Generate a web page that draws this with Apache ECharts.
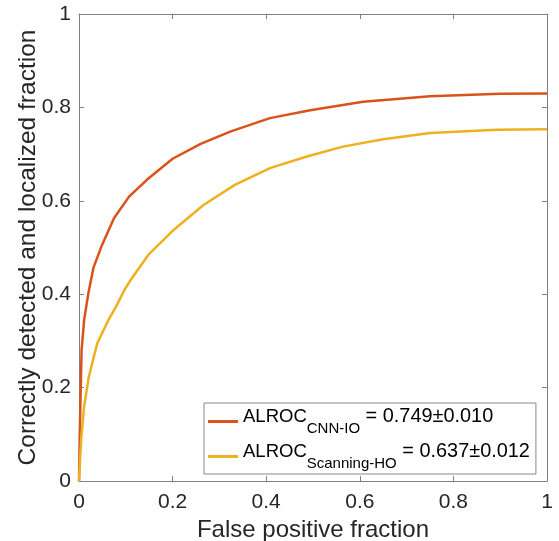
<!DOCTYPE html>
<html>
<head>
<meta charset="utf-8">
<script src="https://cdn.jsdelivr.net/npm/echarts@6/dist/echarts.min.js"></script>
<style>html,body{margin:0;padding:0;background:#fff;}#c{width:559px;height:541px;}</style>
</head>
<body>
<div id="c"></div>
<script>
const fprCNN = [0, 0.0015, 0.0036, 0.0055, 0.011, 0.02, 0.031, 0.049, 0.075, 0.107, 0.145, 0.2, 0.26, 0.323, 0.408, 0.494, 0.607, 0.75, 0.9, 1.0];
const tprCNN = [0, 0.095, 0.195, 0.28, 0.345, 0.402, 0.457, 0.505, 0.563, 0.609, 0.645, 0.69, 0.722, 0.748, 0.777, 0.794, 0.812, 0.824, 0.829, 0.830];
const fprHO = [0, 0.002, 0.005, 0.011, 0.021, 0.039, 0.063, 0.08, 0.097, 0.11, 0.148, 0.2015, 0.266, 0.333, 0.408, 0.487, 0.564, 0.65, 0.75, 0.893, 1.0];
const tprHO = [0, 0.04, 0.095, 0.16, 0.223, 0.295, 0.345, 0.375, 0.409, 0.43, 0.484, 0.537, 0.591, 0.634, 0.670, 0.695, 0.716, 0.732, 0.745, 0.752, 0.753];
const seriesNames = ['CNN-IO', 'Scanning-HO'];
const seriesValues = ['0.749\u00b10.010', '0.637\u00b10.012'];
const axisTicks = [0, 0.2, 0.4, 0.6, 0.8, 1];

const font = 'Liberation Sans, Arial, Helvetica, sans-serif';
const axColor = '#808080';
const txtColor = '#262626';

function pairs(xs, ys) { return xs.map((x, i) => [x, ys[i]]); }
function tickFmt(v) { return axisTicks.indexOf(v) >= 0 ? String(v) : ''; }

const baseAxis = {
  type: 'value', min: 0, max: 1, interval: 0.2,
  axisLine: { show: true, onZero: false, lineStyle: { color: axColor, width: 1 } },
  axisTick: { show: true, inside: true, length: 5, lineStyle: { color: axColor } },
  splitLine: { show: false }
};

const chart = echarts.init(document.getElementById('c'), null, { renderer: 'canvas' });
chart.setOption({
  backgroundColor: '#fff',
  animation: false,
  grid: { left: 79, right: 12, top: 14, bottom: 60, containLabel: false, outerBoundsMode: 'none' },
  xAxis: [
    Object.assign({}, baseAxis, {
      position: 'bottom',
      name: 'False positive fraction', nameLocation: 'middle', nameGap: 37, nameMoveOverlap: false,
      nameTextStyle: { fontSize: 24, color: txtColor, fontFamily: font },
      axisLabel: { fontSize: 21, color: txtColor, fontFamily: font, margin: 11, formatter: tickFmt }
    }),
    Object.assign({}, baseAxis, { position: 'top', axisLabel: { show: false } })
  ],
  yAxis: [
    Object.assign({}, baseAxis, {
      position: 'left',
      name: 'Correctly detected and localized fraction', nameLocation: 'middle', nameGap: 38, nameMoveOverlap: false,
      nameTextStyle: { fontSize: 24.5, color: txtColor, fontFamily: font },
      axisLabel: { fontSize: 21, color: txtColor, fontFamily: font, margin: 8, formatter: tickFmt }
    }),
    Object.assign({}, baseAxis, { position: 'right', axisLabel: { show: false } })
  ],
  legend: {
    left: 204, top: 403, orient: 'vertical',
    backgroundColor: '#fff', borderColor: '#888', borderWidth: 1, borderRadius: 0,
    padding: [4, 6, 3, 4], itemGap: 6, itemWidth: 30, itemHeight: 3, icon: 'rect', itemTextGap: 5,
    textStyle: {
      color: '#000', fontFamily: font,
      rich: {
        a: { fontSize: 18.5, lineHeight: 22, verticalAlign: 'top', color: '#000', fontFamily: font },
        s: { fontSize: 15, padding: [14, 0, 0, 0], verticalAlign: 'top', color: '#000', fontFamily: font },
        b: { fontSize: 19.9, lineHeight: 22, verticalAlign: 'top', color: '#000', fontFamily: font }
      }
    },
    formatter: function (name) {
      const i = seriesNames.indexOf(name);
      return '{a|ALROC}{s|' + name + '}{b| = ' + seriesValues[i] + '}';
    },
    data: seriesNames
  },
  series: [
    { name: seriesNames[0], type: 'line', data: pairs(fprCNN, tprCNN), showSymbol: false, symbol: 'none', smooth: false,
      lineStyle: { color: '#D95319', width: 2.5 }, itemStyle: { color: '#D95319' } },
    { name: seriesNames[1], type: 'line', data: pairs(fprHO, tprHO), showSymbol: false, symbol: 'none', smooth: false,
      lineStyle: { color: '#EDB120', width: 2.5 }, itemStyle: { color: '#EDB120' } }
  ]
});
</script>
</body>
</html>
